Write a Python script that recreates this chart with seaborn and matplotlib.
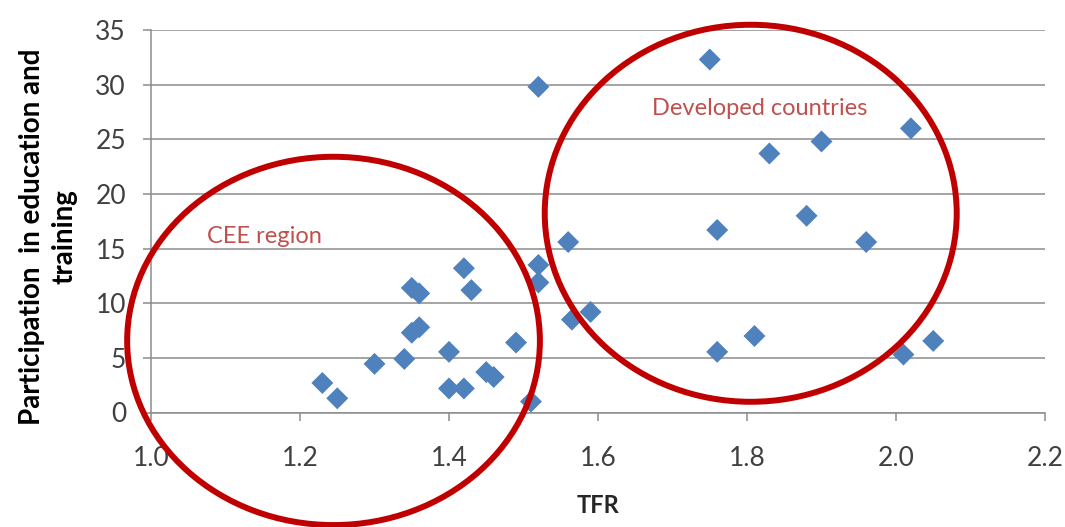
import matplotlib
matplotlib.use("Agg")
import matplotlib.pyplot as plt
import seaborn as sns
import pandas as pd
from matplotlib.patches import Ellipse

# ---- data ----
tfr = [1.23, 1.25, 1.30, 1.34, 1.35, 1.36, 1.35, 1.36, 1.40, 1.40, 1.42, 1.42,
       1.43, 1.45, 1.46, 1.49, 1.51, 1.52, 1.52, 1.52, 1.56, 1.565, 1.59,
       1.75, 1.76, 1.76, 1.81, 1.83, 1.88, 1.90, 1.96, 2.01, 2.02, 2.05]
participation = [2.7, 1.3, 4.45, 4.9, 11.4, 10.9, 7.3, 7.8, 5.55, 2.2, 2.2, 13.2,
                 11.2, 3.7, 3.25, 6.4, 1.0, 29.8, 13.5, 11.9, 15.6, 8.5, 9.2,
                 32.3, 16.7, 5.55, 7.0, 23.7, 18.0, 24.8, 15.6, 5.3, 26.0, 6.55]
x_ticks = [1.0, 1.2, 1.4, 1.6, 1.8, 2.0, 2.2]
x_tick_labels = ["1.0", "1.2", "1.4", "1.6", "1.8", "2.0", "2.2"]
y_ticks = [0, 5, 10, 15, 20, 25, 30, 35]

# group outlines (center x, center y, width, height) and labels
groups = ["CEE region", "Developed countries"]
group_centers = [(1.245, 6.55), (1.805, 18.23)]
group_sizes = [(0.554, 33.7), (0.553, 34.5)]
label_pos = [(1.075, 16.1), (1.6725, 27.8)]

sns.set_theme(style="white")
plt.rcParams["font.family"] = ["Lato", "DejaVu Sans"]

fig = plt.figure(figsize=(10.65, 5.27), dpi=100)
ax = fig.add_axes([151 / 1065, 1 - 412.5 / 527, 894 / 1065, 382.5 / 527])

df = pd.DataFrame({"TFR": tfr, "Participation": participation})
sns.scatterplot(data=df, x="TFR", y="Participation", marker="D", s=125,
                color="#4F81BD", edgecolor="none", linewidth=0, ax=ax, zorder=3)

ax.set_xlim(1.0, 2.2)
ax.set_ylim(0, 35)
ax.set_xticks(x_ticks)
ax.set_xticklabels(x_tick_labels)
ax.set_yticks(y_ticks)

grid_c = "#8C8C8C"
ax.yaxis.grid(True, color=grid_c, linewidth=1.1)
ax.xaxis.grid(False)
ax.set_axisbelow(True)
for s in ["top", "right"]:
    ax.spines[s].set_visible(False)
for s in ["left", "bottom"]:
    ax.spines[s].set_color(grid_c)
    ax.spines[s].set_linewidth(1.1)

ax.tick_params(axis="both", direction="out", length=6, width=1.1, color=grid_c,
               labelsize=19, labelcolor="#404040")
ax.tick_params(axis="y", pad=12, left=True)
ax.tick_params(axis="x", pad=18, bottom=True)

ax.set_xlabel("TFR", fontsize=17, fontweight="bold", color="#262626")
ax.set_ylabel("Participation  in education and\ntraining", fontsize=20,
              fontweight="bold", color="#000000", linespacing=1.3, va="center")
ax.xaxis.set_label_coords(0.5, -0.242)
ax.yaxis.set_label_coords(-0.115, 0.46)
ax.xaxis.label.set_va("center")

for name, c, (w, h), (tx, ty) in zip(groups, group_centers, group_sizes, label_pos):
    ax.add_patch(Ellipse(c, w, h, fill=False, edgecolor="#C00000", linewidth=4.3,
                         clip_on=False, zorder=4))
    ax.text(tx, ty, name, color="#C0504D", fontsize=17, ha="left", va="center", zorder=5)

fig.savefig("out.png", dpi=100)
